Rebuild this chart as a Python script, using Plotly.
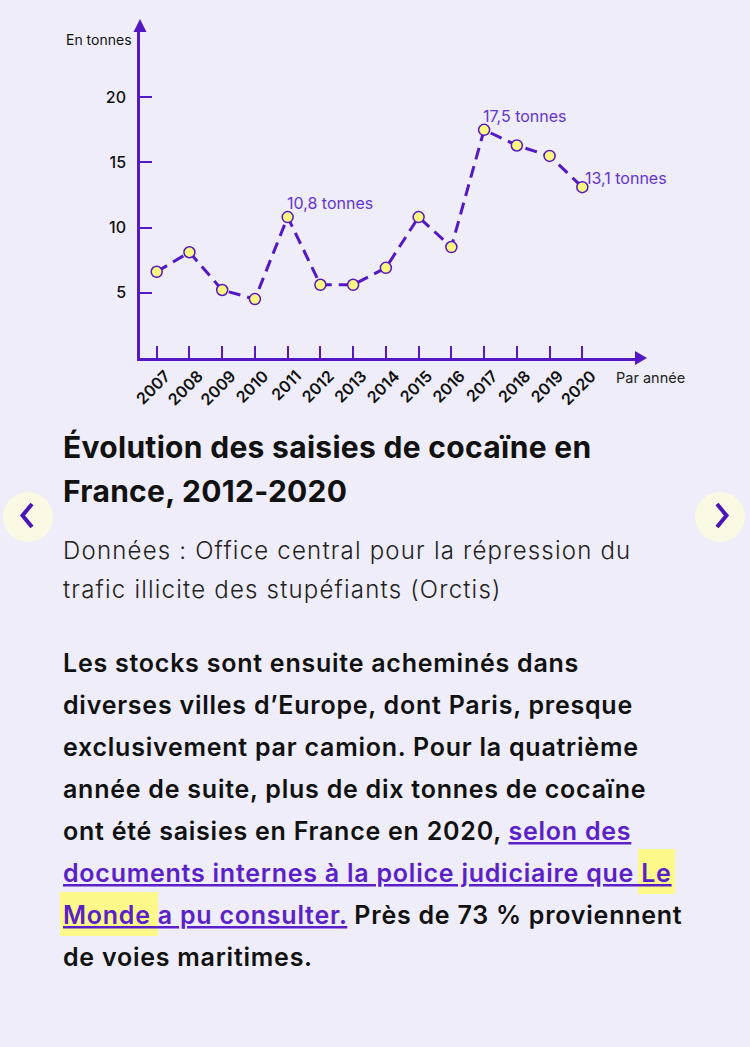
import plotly.graph_objects as go

# ---- data ----
years = [2007, 2008, 2009, 2010, 2011, 2012, 2013, 2014, 2015, 2016, 2017, 2018, 2019, 2020]
tonnes = [6.6, 8.1, 5.2, 4.5, 10.8, 5.6, 5.6, 6.9, 10.8, 8.5, 17.5, 16.3, 15.5, 13.1]
y_ticks = [5, 10, 15, 20]
labelled_years = [2011, 2017, 2020]

title_lines = ["Évolution des saisies de cocaïne en", "France, 2012-2020"]
source_lines = ["Données : Office central pour la répression du",
                "trafic illicite des stupéfiants (Orctis)"]

W, H = 750, 1047
BG = "#eeedf9"
PURPLE = "#5418c4"
LABEL_PURPLE = "#6434d2"
YELLOW = "#fbf77f"
FONT = "Inter"


def px(x):
    return x / W


def py(y):
    return 1 - y / H


def sp(text, ls, extra=""):
    return f'<span style="letter-spacing:{ls}px;{extra}">{text}</span>'


X0_PIX, X1_PIX = 140, 640
Y0_PIX, Y1_PIX = 357.7, 30
STEP_X = 32.74
UNIT_Y = 13.02
x_lo = 2007 - (156.7 - X0_PIX) / STEP_X
x_hi = 2007 + (X1_PIX - 156.7) / STEP_X
y_hi = (Y0_PIX - Y1_PIX) / UNIT_Y

fig = go.Figure()
fig.add_trace(go.Scatter(
    x=years, y=tonnes, mode="lines+markers",
    line=dict(color=PURPLE, width=3, dash="12px,7px"),
    marker=dict(size=11, color=YELLOW, line=dict(color=PURPLE, width=1.5)),
    hoverinfo="skip", cliponaxis=False,
))

annotations = []
for yr in labelled_years:
    v = tonnes[years.index(yr)]
    txt = f"{v:.1f}".replace(".", ",") + " tonnes"
    if yr == years[-1]:
        annotations.append(dict(x=yr, y=v, xref="x", yref="y", text=txt, showarrow=False,
                                xanchor="left", yanchor="middle", xshift=1, yshift=9,
                                font=dict(family=FONT, size=16, color=LABEL_PURPLE)))
    else:
        annotations.append(dict(x=yr, y=v, xref="x", yref="y", text=txt, showarrow=False,
                                xanchor="left", yanchor="bottom", xshift=-3, yshift=2,
                                font=dict(family=FONT, size=16, color=LABEL_PURPLE)))

annotations.append(dict(x=px(134), y=py(40), xref="paper", yref="paper", text="En tonnes",
                        showarrow=False, xanchor="right", yanchor="middle",
                        font=dict(family=FONT, size=14, color="#111")))
annotations.append(dict(x=px(614), y=py(378), xref="paper", yref="paper", text="Par année",
                        showarrow=False, xanchor="left", yanchor="middle",
                        font=dict(family=FONT, size=14.5, color="#222")))

for i, t in enumerate(title_lines):
    annotations.append(dict(x=px(61), y=py(447 + 44 * i), xref="paper", yref="paper",
                            text=sp(t, 0.3), showarrow=False, xanchor="left", yanchor="middle",
                            font=dict(family=FONT, size=30, color="#111", weight=700)))
for i, t in enumerate(source_lines):
    annotations.append(dict(x=px(61), y=py(550 + 39 * i), xref="paper", yref="paper",
                            text=sp(t, 1.2), showarrow=False, xanchor="left", yanchor="middle",
                            font=dict(family=FONT, size=24, color="#222", weight=300)))

LS_BODY = 0.76
LINK_STYLE = "color:#5a21c9;text-decoration:underline"
body_lines = [
    sp("Les stocks sont ensuite acheminés dans", LS_BODY),
    sp("diverses villes d’Europe, dont Paris, presque", LS_BODY),
    sp("exclusivement par camion. Pour la quatrième", LS_BODY),
    sp("année de suite, plus de dix tonnes de cocaïne", LS_BODY),
    sp("ont été saisies en France en 2020, ", LS_BODY) + sp("selon des", LS_BODY, LINK_STYLE),
    sp("documents internes à la police judiciaire que Le", LS_BODY, LINK_STYLE),
    sp("Monde a pu consulter.", LS_BODY, LINK_STYLE) + sp(" Près de 73 % proviennent", LS_BODY),
    sp("de voies maritimes.", LS_BODY),
]
for i, t in enumerate(body_lines):
    annotations.append(dict(x=px(61), y=py(663 + 42 * i), xref="paper", yref="paper", text=t,
                            showarrow=False, xanchor="left", yanchor="middle",
                            font=dict(family=FONT, size=25, color="#111", weight=600)))

shapes = [
    # highlights
    dict(type="rect", xref="paper", yref="paper", x0=px(638), x1=px(675), y0=py(894), y1=py(849),
         fillcolor="#fcf98a", line=dict(width=0), layer="below"),
    dict(type="rect", xref="paper", yref="paper", x0=px(60), x1=px(158), y0=py(936), y1=py(892),
         fillcolor="#fcf98a", line=dict(width=0), layer="below"),
    # nav circles
    dict(type="circle", xref="paper", yref="paper", x0=px(3), x1=px(53), y0=py(542), y1=py(492),
         fillcolor="#fbf9e3", line=dict(width=0), layer="below"),
    dict(type="circle", xref="paper", yref="paper", x0=px(695), x1=px(745), y0=py(542), y1=py(492),
         fillcolor="#fbf9e3", line=dict(width=0), layer="below"),
    dict(type="path", xref="paper", yref="paper",
         path=f"M {px(32)} {py(504)} L {px(22.5)} {py(515.5)} L {px(32)} {py(527)}",
         line=dict(color="#4a16b8", width=4)),
    dict(type="path", xref="paper", yref="paper",
         path=f"M {px(717)} {py(504)} L {px(726.5)} {py(515.5)} L {px(717)} {py(527)}",
         line=dict(color="#4a16b8", width=4)),
    # axis arrowheads
    dict(type="path", xref="paper", yref="paper",
         path=f"M {px(133.5)} {py(32)} L {px(146.5)} {py(32)} L {px(140)} {py(19)} Z",
         fillcolor=PURPLE, line=dict(width=0)),
    dict(type="path", xref="paper", yref="paper",
         path=f"M {px(635)} {py(351)} L {px(635)} {py(365)} L {px(647)} {py(358)} Z",
         fillcolor=PURPLE, line=dict(width=0)),
]

fig.update_layout(
    width=W, height=H, autosize=False,
    margin=dict(l=0, r=0, t=0, b=0, pad=0, autoexpand=False),
    paper_bgcolor=BG, plot_bgcolor=BG,
    showlegend=False,
    annotations=annotations, shapes=shapes,
    xaxis=dict(domain=[px(X0_PIX), px(X1_PIX)], range=[x_lo, x_hi], anchor="y",
               automargin=False,
               showline=True, linecolor=PURPLE, linewidth=2.5, showgrid=False, zeroline=False,
               ticks="inside", ticklen=12, tickwidth=2, tickcolor=PURPLE,
               tickvals=years, ticktext=[str(y) for y in years], tickangle=-45,
               ticklabelshift=9,
               tickfont=dict(family=FONT, size=16, color="#111", weight=600)),
    yaxis=dict(domain=[py(Y0_PIX), py(Y1_PIX)], range=[0, y_hi], anchor="x",
               automargin=False,
               showline=True, linecolor=PURPLE, linewidth=2.5, showgrid=False, zeroline=False,
               ticks="inside", ticklen=12, tickwidth=2, tickcolor=PURPLE,
               tickvals=y_ticks, ticktext=[str(v) for v in y_ticks], ticklabelstandoff=8,
               tickfont=dict(family=FONT, size=16, color="#111", weight=500)),
)

fig.write_html("out.html", config={"displayModeBar": False},
               post_script="document.body.style.margin='0';document.body.style.background='" + BG + "';")
